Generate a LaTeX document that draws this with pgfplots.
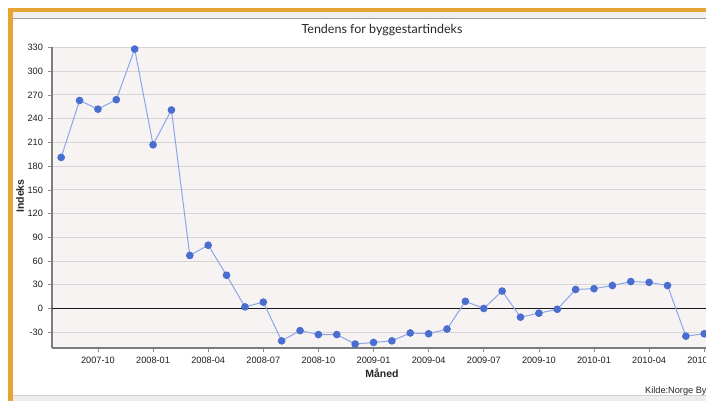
\documentclass[border=0pt]{standalone}
\usepackage{pgfplots}
\pgfplotsset{compat=1.18}
\usepackage{fontspec}
\setmainfont{Liberation Sans}
\newfontfamily\titlefont{Lato}
\definecolor{frameorange}{HTML}{E8A433}
\definecolor{plotbg}{HTML}{F6F3F2}
\definecolor{gridc}{HTML}{D6D4D4}
\definecolor{linec}{HTML}{8CA6EA}
\definecolor{markc}{HTML}{4A6ECF}
\definecolor{axisc}{HTML}{7C7C7C}
\begin{document}
\begin{tikzpicture}[x=1pt,y=1pt]
\useasboundingbox (0,0) rectangle (706,401);
\clip (0,0) rectangle (706,401);
\fill[white] (0,0) rectangle (706,401);
% frame
\fill[frameorange] (8,401-8) rectangle (706,401-12.5);
\fill[frameorange] (8,0) rectangle (12.5,401-8);
\fill[black!6] (12.5,401-12.5) rectangle (706,401-18);
\draw[black!38,line width=1pt] (12.5,401-18.5) -- (706,401-18.5);
\fill[black!7] (12.5,0) rectangle (706,401-396);
\draw[black!18,line width=1pt] (12.5,401-395.5) -- (706,401-395.5);
\begin{axis}[
  at={(52pt,53pt)}, anchor=south west,
  scale only axis, width=679.8pt, height=301.3pt,
  xmin=-0.5, xmax=36.5, ymin=-50, ymax=331,
  axis background/.style={fill=plotbg},
  separate axis lines,
  axis x line*=bottom, axis y line*=left,
  axis line style={draw=axisc, line width=1.3pt, -},
  ytick={-30,0,30,60,90,120,150,180,210,240,270,300,330},
  xtick={2,5,8,11,14,17,20,23,26,29,32,35},
  xticklabels={2007-10,2008-01,2008-04,2008-07,2008-10,2009-01,2009-04,2009-07,2009-10,2010-01,2010-04,2010-07},
  tick align=outside, major tick length=4.5pt,
  tick style={draw=black!45, line width=0.6pt},
  ymajorgrids, grid style={draw=gridc, line width=0.9pt},
  ticklabel style={font=\fontsize{9.2}{10}\selectfont, text=black!88},
  yticklabel style={/pgf/number format/assume math mode=true, xshift=-1pt},
  xticklabel style={yshift=-1pt},
  clip=true,
]
\addplot[black!90, line width=1.7pt, forget plot] coordinates {(-0.5,0) (40,0)};
\addplot[color=linec, line width=1pt, mark=*, mark size=3.3pt,
  mark options={fill=markc, draw=markc}] coordinates {
(0,191) (1,263) (2,252) (3,264) (4,328) (5,207) (6,251) (7,67) (8,80) (9,42)
(10,2) (11,8) (12,-41) (13,-28) (14,-33) (15,-33) (16,-45) (17,-43) (18,-41)
(19,-31) (20,-32) (21,-26) (22,9) (23,0) (24,22) (25,-11) (26,-6) (27,-1)
(28,24) (29,25) (30,29) (31,34) (32,33) (33,29) (34,-35) (35,-32)
};
\end{axis}
\node[font=\titlefont\fontsize{12.5}{14}\selectfont, text=black!85] at (382,401-30) {Tendens for byggestartindeks};
\node[font=\bfseries\fontsize{10.5}{12}\selectfont, text=black!85] at (382,401-373) {Måned};
\node[font=\bfseries\fontsize{10.5}{12}\selectfont, text=black!85, rotate=90] at (20,401-196) {Indeks};
\node[font=\fontsize{9.2}{10}\selectfont, text=black!85, anchor=west, inner sep=0pt] at (645,401-391) {Kilde:Norge By};
\end{tikzpicture}
\end{document}
